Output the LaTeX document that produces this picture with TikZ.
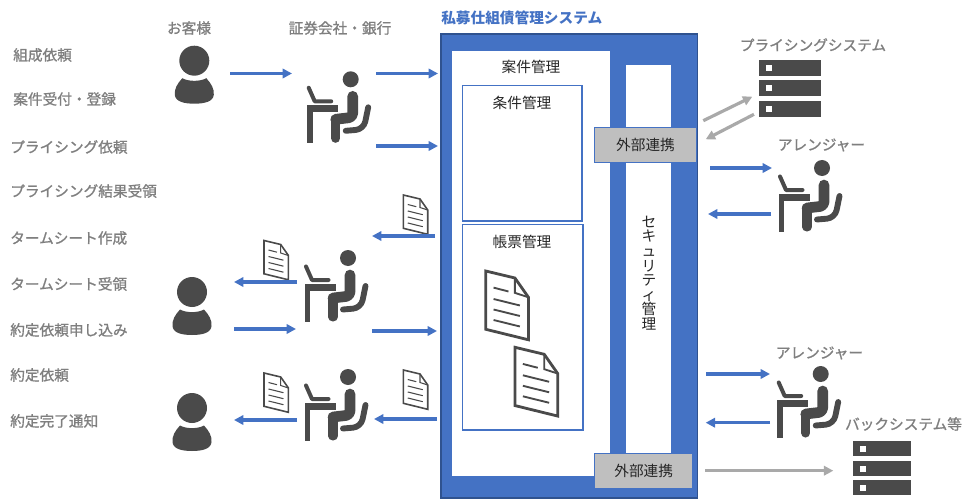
\documentclass[tikz,border=0pt]{standalone}
\usepackage{fontspec}
\setmainfont{Noto Sans CJK JP}
\newfontfamily\jpsemi[FakeBold=1.1]{Noto Sans CJK JP}
\definecolor{mblue}{HTML}{4472C4}
\definecolor{mdark}{HTML}{2F528F}
\definecolor{icon}{HTML}{4A4A4A}
\definecolor{lab}{HTML}{7F7F7F}
\definecolor{gbox}{HTML}{BFBFBF}
\definecolor{garr}{HTML}{A9A9A9}
\usetikzlibrary{arrows.meta}
\tikzset{
  x=0.75pt,y=-0.75pt,
  lab/.style={text=lab,font=\fontsize{11pt}{13pt}\selectfont\jpsemi,anchor=west,inner sep=0pt},
  head/.style={text=lab,font=\fontsize{11pt}{13pt}\selectfont\jpsemi,inner sep=0pt},
  plain/.style={text=black!85,font=\fontsize{11pt}{13pt}\selectfont,inner sep=0pt},
  barr/.style={draw=mblue,line width=2.4pt,-{Triangle[length=7pt,width=7pt]}},
  garrow/.style={draw=garr,line width=2.4pt,-{Triangle[length=7pt,width=7pt]}},
  blueframe/.style={draw=mblue,line width=1pt,fill=white},
  greybox/.style={draw=mblue,line width=0.8pt,fill=gbox,inner sep=0pt,font=\fontsize{11pt}{13pt}\selectfont,text=black!85},
  deskline/.style={draw=icon,line cap=round,line join=round},
}
\newcommand{\deskicon}[2]{%
  \begin{scope}[shift={(#1,#2)}]
    \fill[icon] (0,0) circle[radius=8];
    \draw[deskline,line width=3pt] (-42,8.5) -- (-36,22) -- (-19.5,22);
    \fill[icon] (-43.3,26) rectangle (-12.3,32.6);
    \fill[icon] (-43.3,26) rectangle (-38,64);
    \draw[deskline,line width=8pt,rounded corners=3pt] (2,17) -- (2,38) -- (-15,40);
    \draw[deskline,line width=6.8pt] (-15,40) -- (-15,59);
    \draw[deskline,line width=4.4pt,rounded corners=6pt] (17.5,28) -- (13,50) -- (-5,51.5);
  \end{scope}}
\newcommand{\personicon}[2]{%
  \begin{scope}[shift={(#1,#2)}]
    \fill[icon] (0,0) circle[radius=15];
    \fill[icon] (-12,17.5) .. controls (-6,21) and (6,21) .. (12,17.5)
      .. controls (17,23) and (20,28) .. (19.5,34)
      .. controls (19,41) and (10,43) .. (0,43)
      .. controls (-10,43) and (-19,41) .. (-19.5,34)
      .. controls (-20,28) and (-17,23) .. (-12,17.5) -- cycle;
  \end{scope}}
\newcommand{\docicon}[3]{%
  \begin{scope}[shift={(#1,#2)},scale=#3]
    \draw[icon,fill=white,line width=1.2pt*#3,line join=miter] (0,0) -- (16.7,4) -- (24.4,15) -- (24.4,39.3) -- (0,33.3) -- cycle;
    \draw[icon,line width=0.8pt*#3] (16.7,4) -- (16.7,12.5) -- (24.4,15);
    \draw[icon,line width=0.8pt*#3] (4.5,9.5) -- (13,11.7) (4.5,16) -- (19.5,19.7) (4.5,22) -- (19.5,25.7) (4.5,28) -- (19.5,31.7);
  \end{scope}}
\newcommand{\servericon}[6]{% x y width height pitch
  \begin{scope}[shift={(#1,#2)}]
    \foreach \yy in {0,1,2}{
      \fill[icon] (0,\yy*#5) rectangle (#3,\yy*#5+#4);
      \fill[white] (7,\yy*#5+#6) rectangle (13,\yy*#5+#6+6);
    }
  \end{scope}}
\begin{document}
\begin{tikzpicture}
\useasboundingbox (0,0) rectangle (977,499);
% main system
\node[anchor=west,inner sep=0pt,text=mblue,font=\fontsize{11pt}{13pt}\selectfont\bfseries] (title) at (441,18) {私募仕組債管理システム};
\fill[mblue] (441,34) rectangle (697.5,498);
\draw[mdark,line width=0.8pt] (441,34) rectangle (697.5,498);
\fill[white] (452,51) rectangle (610,476);
\fill[white] (626,65) rectangle (671,460);
\node[plain] (case) at (531,67) {案件管理};
\draw[blueframe] (462.5,85.5) rectangle (582,221);
\node[plain] (cond) at (522,103) {条件管理};
\draw[blueframe] (462.5,224.5) rectangle (583,430);
\node[plain] (form) at (522,242) {帳票管理};
\node[greybox,minimum width=76pt,minimum height=26.7pt,anchor=north west] (ext1) at (594.3,126.7) {外部連携};
\node[greybox,minimum width=73.8pt,minimum height=26.2pt,anchor=north west] (ext2) at (594,452.7) {外部連携};
\node[plain,align=center,font=\fontsize{11pt}{10.9pt}\selectfont] (sec) at (649,273) {セ\\キ\\ュ\\リ\\テ\\ィ\\管\\理};
\docicon{485.7}{271}{1.75}
\docicon{515}{347.3}{1.75}
% left labels
\node[lab] (l1) at (13,55) {組成依頼};
\node[lab] (l2) at (13,99) {案件受付・登録};
\node[lab] (l3) at (10,147) {プライシング依頼};
\node[lab] (l4) at (10,191) {プライシング結果受領};
\node[lab] (l5) at (10,238) {タームシート作成};
\node[lab] (l6) at (10,284) {タームシート受領};
\node[lab] (l7) at (10,330) {約定依頼申し込み};
\node[lab] (l8) at (10,375) {約定依頼};
\node[lab] (l9) at (10,421) {約定完了通知};
\node[head] (h1) at (189,28) {お客様};
\node[head] (h2) at (340,28) {証券会社・銀行};
\node[head] (h3) at (813,45) {プライシングシステム};
\node[head] (h4) at (821.5,145) {アレンジャー};
\node[head] (h5) at (819.5,353) {アレンジャー};
\node[head] (h6) at (903.5,424) {バックシステム等};
% icons
\personicon{194.3}{60.7}
\personicon{192}{292}
\personicon{192}{408}
\deskicon{350.7}{79.3}
\deskicon{348}{258}
\deskicon{348}{377}
\deskicon{822}{168}
\deskicon{820.7}{374}
\servericon{759}{60}{62}{16}{20.3}{5}
\servericon{853.3}{441}{57.5}{15.3}{19.5}{5}
\docicon{403.3}{195}{1}
\docicon{264}{240.5}{1}
\docicon{264}{373}{1}
\docicon{403.3}{370}{1}
% arrow ends
\coordinate (a1) at (230,73.5); \coordinate (b1) at (292,73.5);
\coordinate (a2) at (376,73.5); \coordinate (b2) at (438,73.5);
\coordinate (a3) at (376,146); \coordinate (b3) at (438,146);
\coordinate (a4) at (435,236); \coordinate (b4) at (372,236);
\coordinate (a5) at (297,282); \coordinate (b5) at (234,282);
\coordinate (a6) at (234,329); \coordinate (b6) at (296,329);
\coordinate (a7) at (372,331); \coordinate (b7) at (437,331);
\coordinate (a8) at (437,419); \coordinate (b8) at (374,419);
\coordinate (a9) at (297,420); \coordinate (b9) at (234,420);
\coordinate (a10) at (710,168); \coordinate (b10) at (772,168);
\coordinate (a11) at (771,214); \coordinate (b11) at (708,214);
\coordinate (a12) at (706,374); \coordinate (b12) at (770,374);
\coordinate (a13) at (770,422.7); \coordinate (b13) at (705.7,422.7);
\coordinate (a14) at (705,470.7); \coordinate (b14) at (833.3,470.7);
\coordinate (a15) at (703.3,120.7); \coordinate (b15) at (752.3,96.7);
\coordinate (a16) at (754,114.3); \coordinate (b16) at (705.7,139.3);
\foreach \n in {1,...,13}{\draw[barr] (a\n) -- (b\n);}
\foreach \n in {14,15,16}{\draw[garrow] (a\n) -- (b\n);}
\end{tikzpicture}
\end{document}
